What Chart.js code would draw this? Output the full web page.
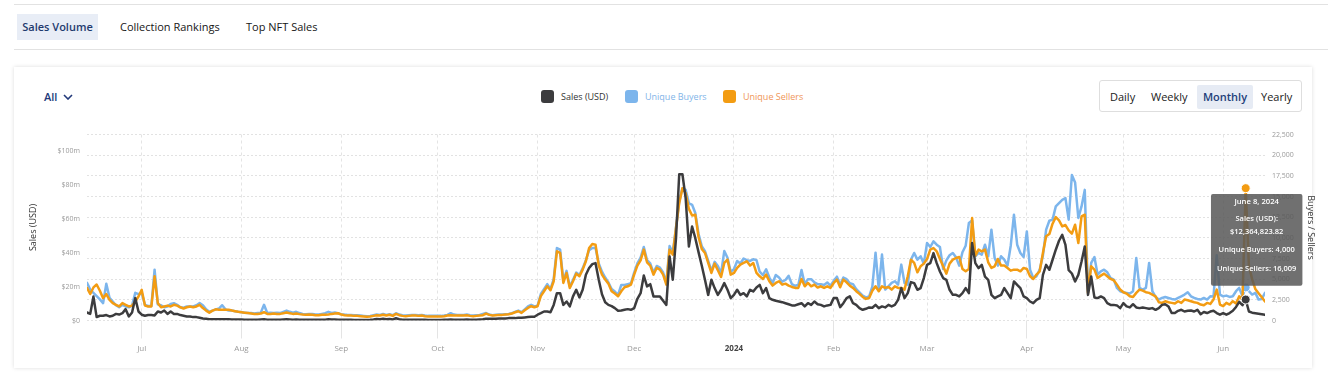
<!DOCTYPE html>
<html>
<head>
<meta charset="utf-8">
<script src="https://cdn.jsdelivr.net/npm/chart.js@4/dist/chart.umd.min.js"></script>
<style>
html,body{margin:0;padding:0;background:#fff;width:1328px;height:378px;overflow:hidden;font-family:'Open Sans',sans-serif;}
.rule{position:absolute;left:14px;right:0;height:1px;background:#e2e2e2;}
.tab{position:absolute;top:14px;height:26px;line-height:26px;font-size:11px;font-weight:500;color:#161616;white-space:nowrap;}
.tab.active{left:17px;width:81px;text-align:center;background:#e8edf6;color:#1f3a6e;font-weight:600;}
.card{position:absolute;left:14px;top:67px;width:1298px;height:301px;background:#fff;box-shadow:0 0 4px rgba(0,0,0,.14);}
#all{position:absolute;left:44px;top:88px;height:18px;line-height:18px;font-size:11px;font-weight:600;color:#22397a;}
#all svg{position:absolute;left:19px;top:6px;}
.lg{position:absolute;top:88px;height:18px;line-height:18px;font-size:9px;white-space:nowrap;}
.sw{position:absolute;top:90px;width:13px;height:13px;border-radius:3px;}
#range{position:absolute;left:1099px;top:80px;width:201px;height:30px;border:1px solid #dedede;border-radius:3px;background:#fff;}
.rb{position:absolute;top:4px;height:24px;line-height:24px;font-size:11px;font-weight:500;color:#1a1a1a;white-space:nowrap;}
.rb.sel{background:#e6ebf4;color:#23407a;border-radius:2px;text-align:center;font-weight:600;}
#wrap{position:absolute;left:14px;top:118px;width:1314px;height:250px;}
</style>
</head>
<body>
<div class="rule" style="top:4px"></div>
<div class="tab active">Sales Volume</div>
<div class="tab" style="left:120px">Collection Rankings</div>
<div class="tab" style="left:246px">Top NFT Sales</div>
<div class="rule" style="top:49px"></div>
<div class="card"></div>
<div id="all">All<svg width="10" height="6" viewBox="0 0 10 6"><polyline points="1,1 5,5 9,1" fill="none" stroke="#22397a" stroke-width="1.6"/></svg></div>
<div id="legend"></div>
<div id="range">
  <div class="rb" style="left:10px">Daily</div>
  <div class="rb" style="left:51px">Weekly</div>
  <div class="rb sel" style="left:97px;width:56px">Monthly</div>
  <div class="rb" style="left:161px">Yearly</div>
</div>
<div id="wrap"><canvas id="c" width="1314" height="250" style="width:1314px;height:250px"></canvas></div>
<script>
// ---- data ----
const startDate = [2023, 5, 14];      // 14 June 2023, first daily point
const dayCount = 367;                  // through 14 June 2024
const seriesNames = ['Sales (USD)', 'Unique Buyers', 'Unique Sellers'];
const seriesColors = ['#3c3c3e', '#7cb5ec', '#f39c12'];
const legendTextColors = ['#333333', '#82b4e8', '#ef9658'];
const monthTickLabels = ['Jul','Aug','Sep','Oct','Nov','Dec','2024','Feb','Mar','Apr','May','Jun'];
const salesTickValuesM = [0, 20, 40, 60, 80, 100];
const salesAxisMaxM = 109.6;
const countAxisMaxK = 22.5;
const countAxisStepK = 2.5;
const tooltipDay = [2024, 5, 8];

// Sales (USD), millions per day
const salesM = [
4.7,3.9,14.1,2.0,2.8,2.8,3.2,2.4,2.8,3.9,
3.5,4.3,6.7,2.4,4.7,13.2,5.3,3.4,2.8,3.2,
3.2,3.0,5.3,4.7,5.9,3.9,5.3,3.9,3.9,3.2,
2.8,2.4,2.4,2.0,2.0,1.6,1.2,1.0,0.8,0.8,
0.8,0.7,0.8,0.7,0.7,0.6,0.6,0.6,0.6,0.5,
0.5,0.5,0.5,0.5,0.6,0.7,0.5,0.5,0.5,0.5,
0.5,0.6,0.7,0.6,0.5,0.6,0.5,0.4,0.4,0.4,
0.4,0.4,0.4,0.4,0.5,0.7,0.6,0.6,0.5,0.4,
0.4,0.4,0.4,0.3,0.3,0.3,0.3,0.3,0.4,0.6,
0.9,0.7,1.0,0.7,0.9,0.6,1.3,0.7,0.5,0.4,
0.5,0.5,0.5,0.5,0.5,0.4,0.3,0.3,0.3,0.3,
0.3,0.4,0.5,0.6,0.5,0.5,0.5,0.5,0.6,0.5,
0.4,0.5,0.6,0.7,
1.0,1.0,1.0,1.0,1.2,1.2,1.2,1.4,1.4,1.4,
1.6,1.6,1.8,2.0,2.2,2.2,3.4,4.3,5.3,5.3,
4.9,9.2,16.1,16.1,9.2,11.2,8.3,14.2,18.1,13.6,
18.1,27.0,30.9,33.2,33.8,24.0,15.5,10.8,9.2,8.5,
7.3,5.7,5.9,6.3,6.7,6.3,7.3,12.8,16.1,26.5,
20.1,21.4,14.2,14.2,14.2,11.6,9.2,37.7,24.0,48.5,
86.2,86.2,72.1,43.6,55.4,48.5,40.3,32.4,24.0,15.1,
24.0,19.1,15.1,18.1,22.0,18.1,13.2,15.1,18.1,15.1,
16.1,14.2,18.1,17.1,19.5,21.0,16.1,19.1,13.2,12.2,
11.6,11.2,10.8,10.2,9.6,8.9,8.9,9.6,10.2,8.3,
10.2,9.2,11.2,9.6,9.2,8.3,8.9,9.2,13.2,13.2,
7.9,10.2,13.2,14.2,10.2,9.2,7.3,6.3,6.9,7.7,
7.5,9.2,7.3,
8.3,7.7,9.2,8.3,9.2,12.2,19.1,13.2,16.1,22.6,
22.0,18.1,19.1,25.0,32.8,33.8,39.7,33.8,28.9,25.0,
24.0,18.1,15.1,15.1,14.2,16.1,19.1,16.1,45.6,33.8,
30.9,32.8,25.9,24.0,15.1,13.2,14.2,15.1,19.1,16.1,
13.2,23.0,21.0,19.1,14.2,13.2,11.2,10.2,12.2,13.2,
26.9,32.8,29.9,35.8,41.7,47.0,50.5,44.6,29.7,27.7,
23.0,26.9,34.8,43.6,15.1,25.9,13.6,13.2,14.2,13.2,
10.2,9.2,9.2,8.9,7.3,10.2,8.3,7.7,9.6,7.7,
7.3,7.7,7.3,6.9,7.3,6.3,7.3,9.2,9.6,8.3,
4.4,4.4,5.7,6.3,5.3,5.7,5.9,5.3,6.3,3.7,
5.0,4.4,5.3,5.7,4.4,3.4,4.4,3.4,4.4,5.7,
8.0,11.0,9.0,12.36482382,5.3,4.6,4.3,4.0,3.7,3.3
];

// Unique Buyers, thousands per day
const buyersK = [
4.55,3.75,3.35,2.95,2.55,2.1,4.45,2.75,2.3,1.85,
1.6,1.9,1.7,1.6,1.8,3.35,3.2,3.35,1.9,1.75,
1.75,6.15,1.95,1.85,1.6,1.7,2.0,2.1,1.9,1.6,
1.55,1.7,1.7,1.7,1.85,2.1,1.85,1.35,1.05,1.2,
1.35,1.45,1.85,1.35,1.2,1.2,1.13,1.05,1.0,0.95,
0.9,0.9,0.85,0.9,0.95,1.9,0.9,0.95,0.9,0.95,
0.9,1.05,1.2,1.05,0.95,1.05,0.9,0.8,0.77,0.8,
0.8,0.72,0.72,0.8,0.88,1.05,0.92,0.96,0.88,0.77,
0.72,0.68,0.68,0.64,0.64,0.6,0.56,0.52,0.56,0.64,
0.72,0.68,0.8,0.68,0.77,0.64,0.88,0.72,0.64,0.6,
0.64,0.68,0.68,0.64,0.68,0.6,0.56,0.56,0.56,0.56,
0.56,0.6,0.68,0.88,0.72,0.68,0.68,0.68,0.72,0.64,
0.6,0.64,0.68,0.8,
0.9,0.72,0.65,0.7,0.72,0.72,0.76,0.8,0.88,1.05,
1.2,1.0,1.35,1.7,1.9,1.7,1.8,3.2,3.8,4.4,
3.8,5.0,8.77,8.57,4.8,6.0,4.1,4.9,5.8,5.5,
6.3,7.3,8.5,8.77,8.77,6.9,5.9,5.2,4.6,3.8,
3.5,3.1,4.3,4.3,4.4,4.5,5.8,6.9,7.6,8.9,
7.3,6.9,5.8,6.6,6.4,5.8,4.6,9.0,8.2,11.3,
14.4,16.0,15.8,14.2,14.0,13.0,10.5,9.0,8.4,7.2,
6.0,7.1,6.6,5.7,8.4,7.6,5.9,6.2,7.2,6.9,
7.5,7.3,7.2,7.4,7.3,5.9,5.5,6.2,5.2,4.5,
5.5,5.2,4.7,4.9,5.4,4.4,4.2,4.3,6.1,4.4,
5.0,5.0,4.6,4.4,4.4,4.3,4.6,4.2,4.8,5.3,
4.3,5.2,5.0,4.5,4.4,3.8,3.4,3.0,2.8,2.9,
4.1,8.2,3.8,
7.97,3.74,4.14,4.54,4.75,4.34,6.76,4.54,4.34,7.36,
8.17,7.36,7.77,6.88,9.37,8.89,9.58,9.17,8.89,6.23,
7.28,7.89,8.17,7.64,6.64,8.25,9.05,11.79,12.1,7.77,
8.17,7.97,9.17,7.77,10.99,7.56,6.64,7.77,7.36,6.64,
9.05,12.8,9.17,8.17,7.68,10.78,6.15,5.15,5.35,6.15,
7.85,10.99,12.07,12.2,13.8,14.2,14.6,14.8,12.2,17.6,
16.7,12.4,13.8,15.8,3.54,6.96,7.68,5.55,5.95,6.15,
5.83,5.15,4.95,3.94,3.54,3.42,3.34,3.26,3.54,7.56,
3.94,3.74,3.94,6.96,3.54,2.85,2.53,2.73,2.85,2.73,
2.61,2.53,2.73,2.93,3.14,3.42,2.93,2.73,2.61,2.53,
2.73,2.53,2.93,2.9,7.9,3.14,2.93,3.01,2.85,2.93,
3.54,3.94,2.93,4.0,3.54,3.14,3.34,2.53,2.61,3.34
];

// Unique Sellers, thousands per day
const sellersK = [
3.95,3.2,4.0,4.35,3.6,2.7,3.2,2.5,2.1,1.9,
1.7,2.1,1.9,1.7,1.8,2.3,2.9,3.7,1.8,1.7,
1.7,5.35,2.1,1.6,1.7,1.8,1.7,1.9,1.8,1.6,
1.45,1.6,1.7,1.6,1.7,1.9,1.5,1.2,0.95,1.2,
1.35,1.3,1.3,1.3,1.3,1.2,1.13,1.05,1.0,0.95,
0.9,0.85,0.8,0.8,0.85,1.0,0.8,0.8,0.85,0.8,
0.8,0.88,0.96,0.88,0.8,0.85,0.77,0.72,0.69,0.72,
0.69,0.64,0.64,0.69,0.69,0.72,0.8,0.85,0.88,0.72,
0.64,0.6,0.6,0.56,0.56,0.52,0.48,0.44,0.48,0.56,
0.64,0.6,0.69,0.6,0.69,0.56,0.8,0.64,0.56,0.52,
0.56,0.6,0.6,0.56,0.6,0.52,0.48,0.48,0.48,0.48,
0.48,0.52,0.6,0.64,0.6,0.6,0.6,0.6,0.64,0.56,
0.52,0.56,0.6,0.64,
0.84,0.68,0.6,0.64,0.68,0.68,0.72,0.76,0.84,1.0,
1.12,0.92,1.24,1.52,1.73,1.6,1.73,2.95,3.54,4.14,
3.66,4.75,8.37,8.17,4.54,5.75,3.94,4.75,5.67,5.35,
6.15,7.16,8.77,9.25,9.17,6.64,5.55,4.95,4.46,3.54,
3.26,2.93,3.54,4.02,4.14,4.34,5.55,6.64,7.28,8.57,
7.04,6.64,5.55,6.36,6.15,5.55,4.34,8.57,7.97,11.19,
14.2,16.0,15.4,13.5,12.7,12.8,10.1,8.65,8.17,6.96,
5.75,6.88,6.07,5.27,6.96,7.36,5.55,5.75,6.36,6.76,
6.96,7.16,6.64,6.96,5.75,5.35,5.03,5.55,4.75,4.22,
4.54,4.75,4.34,4.46,4.22,4.06,3.94,3.94,5.03,4.14,
4.54,4.14,4.34,3.98,4.14,3.94,4.14,3.94,4.54,4.95,
4.02,4.95,4.62,4.22,3.94,3.54,3.22,2.85,2.61,2.73,
3.6,4.14,3.54,
4.14,3.94,4.06,3.74,4.14,3.94,3.94,3.74,5.35,7.36,
6.96,5.83,6.56,6.88,7.44,8.57,8.77,8.37,7.44,6.56,
5.67,6.88,7.36,7.56,7.68,6.23,5.95,6.23,12.4,7.85,
8.57,8.37,8.57,7.04,6.36,6.56,7.44,6.64,6.64,6.36,
6.03,6.15,6.15,5.95,6.36,6.23,5.35,5.03,5.55,5.95,
8.17,10.18,10.46,11.71,12.5,12.1,11.39,11.55,10.9,10.5,
11.59,9.37,12.6,12.8,3.34,6.56,6.15,5.15,5.43,5.67,
5.35,5.03,4.87,4.34,3.74,3.42,3.26,2.93,2.85,3.34,
3.74,3.62,3.42,3.34,3.14,2.93,2.21,2.13,2.33,2.21,
2.13,2.05,2.33,2.13,2.53,2.45,2.33,2.21,2.13,1.93,
1.85,2.13,2.01,2.53,3.74,1.93,1.73,2.13,1.93,2.33,
2.05,2.93,2.5,16.009,6.6,5.0,3.8,3.3,2.8,2.3
];

// ---- derived categories ----
const FONT = "'Open Sans', sans-serif";
const monthNames = ['January','February','March','April','May','June','July','August','September','October','November','December'];
const dayIndex = [];
const categories = [];
for (let i = 0; i < dayCount; i++) {
  dayIndex.push(i);
  categories.push(new Date(startDate[0], startDate[1], startDate[2] + i));
}
const monthTickIdx = dayIndex.filter(i => categories[i].getDate() === 1);
const tipIndex = dayIndex.find(i => {
  const d = categories[i];
  return d.getFullYear() === tooltipDay[0] && d.getMonth() === tooltipDay[1] && d.getDate() === tooltipDay[2];
});
function fmtDate(d) { return monthNames[d.getMonth()] + ' ' + d.getDate() + ', ' + d.getFullYear(); }
function fmtCount(vK) { return Math.round(vK * 1000).toLocaleString('en-US'); }

// ---- HTML legend ----
const legendPos = [[541, 561], [625, 645], [723, 743]];
const lg = document.getElementById('legend');
seriesNames.forEach((n, k) => {
  const s = document.createElement('div'); s.className = 'sw';
  s.style.left = legendPos[k][0] + 'px'; s.style.background = seriesColors[k]; lg.appendChild(s);
  const t = document.createElement('div'); t.className = 'lg';
  t.style.left = legendPos[k][1] + 'px'; t.style.color = legendTextColors[k]; t.textContent = n; lg.appendChild(t);
});

// ---- tooltip positioner ----
const TT = Chart.Tooltip || Chart.registry.getPlugin('tooltip');
TT.positioners.fixedBox = function (items) {
  if (!items.length) return false;
  const ca = this.chart.chartArea;
  return { x: items[0].element.x + 11, y: ca.top + 105.4 };
};

Chart.defaults.font.family = FONT;

function lineDs(label, data, color, axis, order) {
  return {
    label, data, yAxisID: axis, order,
    borderColor: color, backgroundColor: color,
    borderWidth: 2.5, tension: 0, pointRadius: 0,
    pointHoverRadius: 4.5, pointHoverBorderWidth: 1,
    pointHoverBackgroundColor: color, pointHoverBorderColor: '#ffffff',
    borderJoinStyle: 'round', borderCapStyle: 'round'
  };
}

const chart = new Chart(document.getElementById('c'), {
  type: 'line',
  data: {
    labels: dayIndex,
    datasets: [
      lineDs(seriesNames[0], salesM, seriesColors[0], 'y', 0),
      lineDs(seriesNames[1], buyersK, seriesColors[1], 'y1', 2),
      lineDs(seriesNames[2], sellersK, seriesColors[2], 'y1', 1)
    ]
  },
  options: {
    responsive: false,
    animation: false,
    devicePixelRatio: 1,
    events: [],
    layout: { padding: { top: 16.5, left: 0, right: 0, bottom: 0 } },
    interaction: { mode: 'index', intersect: false },
    plugins: {
      legend: { display: false },
      tooltip: {
        enabled: true,
        position: 'fixedBox',
        xAlign: 'center', yAlign: 'center',
        caretSize: 0, caretPadding: 0,
        backgroundColor: 'rgba(88,88,88,0.86)',
        cornerRadius: 2,
        displayColors: false,
        titleAlign: 'center', bodyAlign: 'center', footerAlign: 'center',
        titleColor: '#ffffff', bodyColor: '#ffffff', footerColor: '#ffffff',
        titleFont: { family: FONT, size: 7.7, weight: '600', lineHeight: 1.25 },
        bodyFont: { family: FONT, size: 7.5, weight: '600', lineHeight: 1.693 },
        footerFont: { family: FONT, size: 7.5, weight: '600', lineHeight: 1.693 },
        titleMarginBottom: 6.15,
        bodySpacing: 0,
        footerMarginTop: 5.6,
        footerSpacing: 6,
        padding: { top: 2.9, bottom: 10.6, left: 6, right: 6 },
        itemSort: (a, b) => a.datasetIndex - b.datasetIndex,
        filter: item => item.datasetIndex === 0,
        callbacks: {
          title: items => fmtDate(categories[items[0].dataIndex]),
          label: ctx => ['Sales (USD):', '$' + (ctx.parsed.y * 1e6).toLocaleString('en-US', { minimumFractionDigits: 2, maximumFractionDigits: 2 })],
          footer: items => {
            const i = items[0].dataIndex;
            return [seriesNames[1] + ': ' + fmtCount(buyersK[i]), seriesNames[2] + ': ' + fmtCount(sellersK[i])];
          }
        }
      }
    },
    scales: {
      x: {
        type: 'linear',
        min: 0, max: dayCount - 1,
        afterBuildTicks: s => { s.ticks = monthTickIdx.map(v => ({ value: v })); },
        afterFit: s => { s.height = 47.5; },
        grid: { color: '#e4e4e4', lineWidth: 1, drawTicks: true, tickLength: 18, tickColor: '#e4e4e4' },
        border: { display: false, dash: [3, 3] },
        ticks: {
          autoSkip: false, maxRotation: 0, padding: 5,
          callback: (v, i) => monthTickLabels[i],
          color: c => (c.tick && c.tick.label === '2024') ? '#444' : '#9a9a9a',
          font: c => ({ family: FONT, size: 8, weight: (c.tick && c.tick.label === '2024') ? '700' : '400' })
        }
      },
      y: {
        position: 'left',
        min: 0, max: salesAxisMaxM,
        afterBuildTicks: s => { s.ticks = salesTickValuesM.map(v => ({ value: v })); },
        afterFit: s => { s.width = 73; },
        grid: { display: false, drawTicks: false },
        border: { display: false },
        ticks: {
          padding: 7, color: '#9a9a9a', font: { family: FONT, size: 7 },
          callback: v => v === 0 ? '$0' : '$' + v + 'm'
        },
        title: { display: true, text: 'Sales (USD)', color: '#333', font: { family: FONT, size: 9 }, padding: { top: 14, bottom: 0 } }
      },
      y1: {
        position: 'right',
        min: 0, max: countAxisMaxK,
        afterFit: s => { s.width = 63; },
        grid: { color: '#e2e2e2', drawTicks: false, lineWidth: 1 },
        border: { display: false, dash: [2, 2] },
        ticks: {
          stepSize: countAxisStepK, padding: 7, color: '#9a9a9a', font: { family: FONT, size: 7 },
          callback: v => fmtCount(v)
        },
        title: { display: true, text: 'Buyers / Sellers', color: '#333', font: { family: FONT, size: 9 }, padding: { top: 12.5, bottom: 0 } }
      }
    }
  }
});

const act = [0, 1, 2].map(d => ({ datasetIndex: d, index: tipIndex }));
chart.setActiveElements(act);
chart.tooltip.setActiveElements(act, { x: 0, y: 0 });
chart.update('none');
</script>
</body>
</html>
